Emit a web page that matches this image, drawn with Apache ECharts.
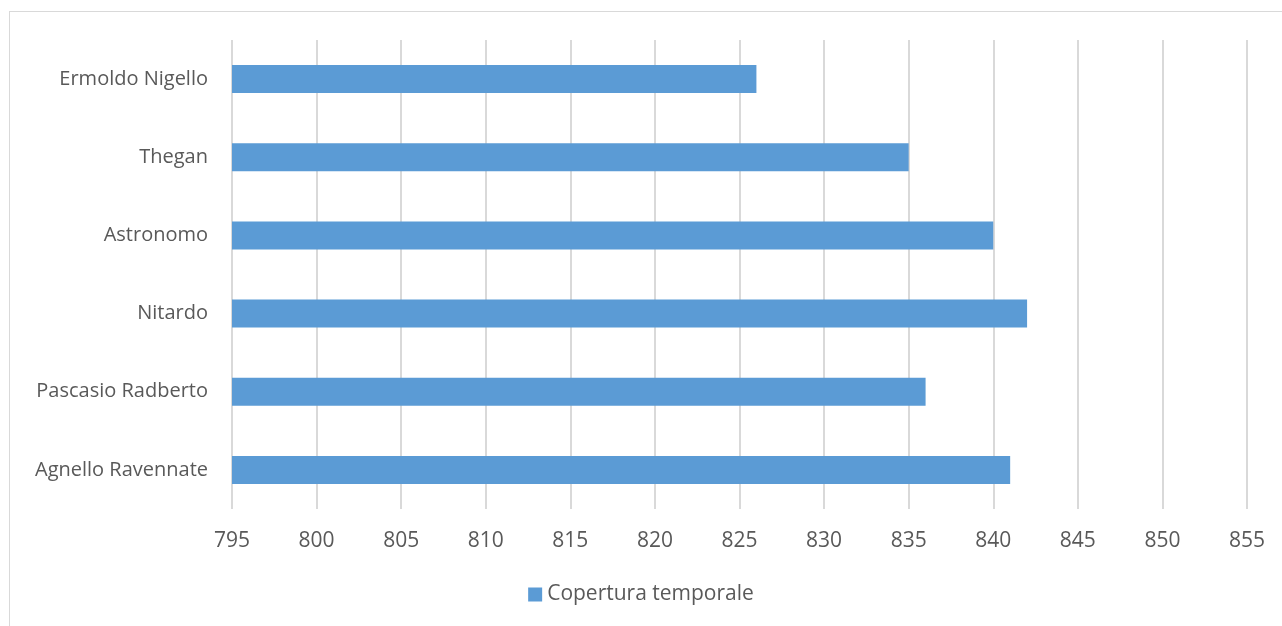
<!DOCTYPE html>
<html>
<head>
<meta charset="utf-8">
<script src="https://cdn.jsdelivr.net/npm/echarts@6/dist/echarts.min.js"></script>
<style>
  html, body { margin: 0; padding: 0; background: #fff; }
  #frame { position: absolute; left: 9px; top: 11px; width: 1290px; height: 640px; border: 1px solid #d9d9d9; }
  #main { position: absolute; left: 0; top: 0; width: 1282px; height: 626px; }
</style>
</head>
<body>
<div id="frame"></div>
<div id="main"></div>
<script>
// categories from bottom to top, as the axis draws them
const categories = ['Agnello Ravennate', 'Pascasio Radberto', 'Nitardo', 'Astronomo', 'Thegan', 'Ermoldo Nigello'];
const coverage = [841, 836, 842, 840, 835, 826];
const seriesName = 'Copertura temporale';

let chart = echarts.init(document.getElementById('main'));
let labelFont = { fontFamily: 'Open Sans', fontSize: 20, color: '#595959' };

let option = {
  backgroundColor: 'transparent',
  animation: false,
  legend: {
    data: [seriesName],
    bottom: 16,
    left: 'center',
    itemWidth: 14,
    itemHeight: 14,
    icon: 'rect',
    textStyle: Object.assign({}, labelFont, { fontSize: 21 })
  },
  grid: {
    left: 232,
    right: 35,
    top: 40,
    bottom: 117
  },
  xAxis: {
    type: 'value',
    min: 795,
    max: 855,
    interval: 5,
    axisLine: { show: false },
    axisTick: { show: false },
    axisLabel: Object.assign({ margin: 22 }, labelFont, { fontSize: 21 }),
    splitLine: { lineStyle: { color: '#d9d9d9', width: 2 } }
  },
  yAxis: {
    type: 'category',
    data: categories,
    axisLine: { show: false },
    axisTick: { show: false },
    axisLabel: Object.assign({ margin: 24 }, labelFont)
  },
  series: [{
    name: seriesName,
    type: 'bar',
    barWidth: 28,
    data: coverage,
    itemStyle: { color: '#5b9bd5' }
  }]
};

chart.setOption(option);
window.onresize = function () {
  chart.resize();
};
</script>
</body>
</html>
